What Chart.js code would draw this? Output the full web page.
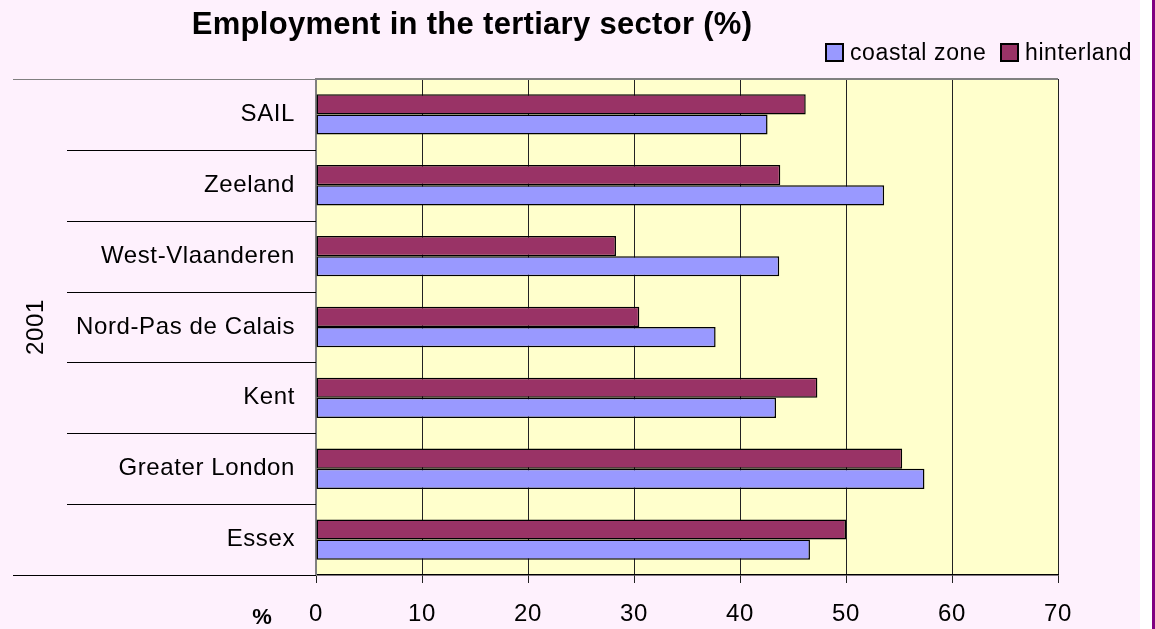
<!DOCTYPE html>
<html>
<head>
<meta charset="utf-8">
<script src="https://cdn.jsdelivr.net/npm/chart.js@4"></script>
<style>
  html, body { margin: 0; padding: 0; background: #fff; }
  #wrap { width: 1155px; height: 629px; }
</style>
</head>
<body>
<div id="wrap"><canvas id="tertiaryChart" width="1155" height="629"></canvas></div>
<script>
const categories = ['SAIL', 'Zeeland', 'West-Vlaanderen', 'Nord-Pas de Calais', 'Kent', 'Greater London', 'Essex'];
const coastalZone = [42.6, 53.6, 43.7, 37.7, 43.4, 57.4, 46.6];
const hinterland = [46.2, 43.8, 28.3, 30.5, 47.3, 55.3, 50.0];
const xTicks = [0, 10, 20, 30, 40, 50, 60, 70];

const FONT = "'Liberation Sans', Arial, sans-serif";
Chart.defaults.font.family = FONT;
Chart.defaults.color = '#000';

// background, plot area fill, separators and the extra texts
const decor = {
  id: 'decor',
  beforeDraw(chart) {
    const { ctx, chartArea: a } = chart;
    ctx.save();
    ctx.fillStyle = '#fef1fd';
    ctx.fillRect(0, 0, 1140, chart.height);
    ctx.fillStyle = '#800080';
    ctx.fillRect(1152, 0, 3, chart.height);
    ctx.fillStyle = '#ffffcc';
    ctx.fillRect(a.left, a.top, a.right - a.left, a.bottom - a.top);
    ctx.restore();
    // excel-like wide text for the tick labels
    ctx.letterSpacing = '0.6px';
  },
  afterDraw(chart) {
    const { ctx, chartArea: a } = chart;
    const y = chart.scales.y;
    ctx.save();
    // category separators on the left
    ctx.lineWidth = 1;
    for (let i = 0; i <= categories.length; i++) {
      const py = Math.round(y.getPixelForValue(i - 0.5)) + 0.5;
      const outer = i === 0 || i === categories.length;
      ctx.strokeStyle = i === 0 ? '#808080' : '#000';
      ctx.beginPath();
      ctx.moveTo(outer ? 13 : 67, py);
      ctx.lineTo(a.left, py);
      ctx.stroke();
    }
    // top border of the plot
    ctx.strokeStyle = '#808080';
    ctx.lineWidth = 2;
    ctx.beginPath();
    ctx.moveTo(a.left, a.top);
    ctx.lineTo(a.right, a.top);
    ctx.stroke();

    // title
    ctx.fillStyle = '#000';
    ctx.letterSpacing = '0.3px';
    ctx.font = 'bold 31px ' + FONT;
    ctx.textAlign = 'center';
    ctx.textBaseline = 'alphabetic';
    ctx.fillText('Employment in the tertiary sector (%)', 472, 34);

    // legend
    const items = [
      { label: 'coastal zone', color: '#9999ff', x: 826 },
      { label: 'hinterland', color: '#993366', x: 1001 }
    ];
    ctx.letterSpacing = '0.6px';
    ctx.font = '23px ' + FONT;
    ctx.textAlign = 'left';
    items.forEach(it => {
      ctx.fillStyle = it.color;
      ctx.fillRect(it.x, 44, 17, 17);
      ctx.strokeStyle = '#000';
      ctx.lineWidth = 2;
      ctx.strokeRect(it.x, 44, 17, 17);
      ctx.fillStyle = '#000';
      ctx.fillText(it.label, it.x + 24, 60);
    });

    // axis titles
    ctx.letterSpacing = '0px';
    ctx.font = 'bold 22px ' + FONT;
    ctx.textAlign = 'center';
    ctx.textBaseline = 'middle';
    ctx.fillText('%', 262, 618);

    ctx.letterSpacing = '0.6px';
    ctx.font = '24px ' + FONT;
    ctx.translate(36, (a.top + a.bottom) / 2);
    ctx.rotate(-Math.PI / 2);
    ctx.fillText('2001', 0, 0);
    ctx.restore();
  }
};

new Chart(document.getElementById('tertiaryChart').getContext('2d'), {
  type: 'bar',
  data: {
    labels: categories,
    datasets: [
      {
        label: 'hinterland',
        data: hinterland,
        backgroundColor: '#993366',
        borderColor: '#000',
        borderWidth: 1.5,
        borderSkipped: false,
        categoryPercentage: 0.57,
        barPercentage: 1.0
      },
      {
        label: 'coastal zone',
        data: coastalZone,
        backgroundColor: '#9999ff',
        borderColor: '#000',
        borderWidth: 1.5,
        borderSkipped: false,
        categoryPercentage: 0.57,
        barPercentage: 1.0
      }
    ]
  },
  options: {
    indexAxis: 'y',
    responsive: false,
    animation: false,
    layout: { padding: { left: 0, right: 97, top: 79, bottom: 0 } },
    plugins: {
      legend: { display: false },
      title: { display: false },
      tooltip: { enabled: false }
    },
    scales: {
      x: {
        min: 0,
        max: 70,
        afterFit(s) { s.height = 54; },
        afterBuildTicks(s) { s.ticks = xTicks.map(v => ({ value: v })); },
        grid: {
          color: '#222',
          lineWidth: 1,
          tickLength: 8,
          drawTicks: true
        },
        border: { display: true, color: '#000', width: 1.5 },
        ticks: {
          font: { size: 24 },
          padding: 17,
          color: '#000'
        }
      },
      y: {
        afterFit(s) { s.width = 316; },
        grid: { display: false },
        border: { display: true, color: '#808080', width: 2 },
        ticks: {
          font: { size: 24 },
          padding: 13,
          color: '#000'
        }
      }
    }
  },
  plugins: [decor]
});
</script>
</body>
</html>
